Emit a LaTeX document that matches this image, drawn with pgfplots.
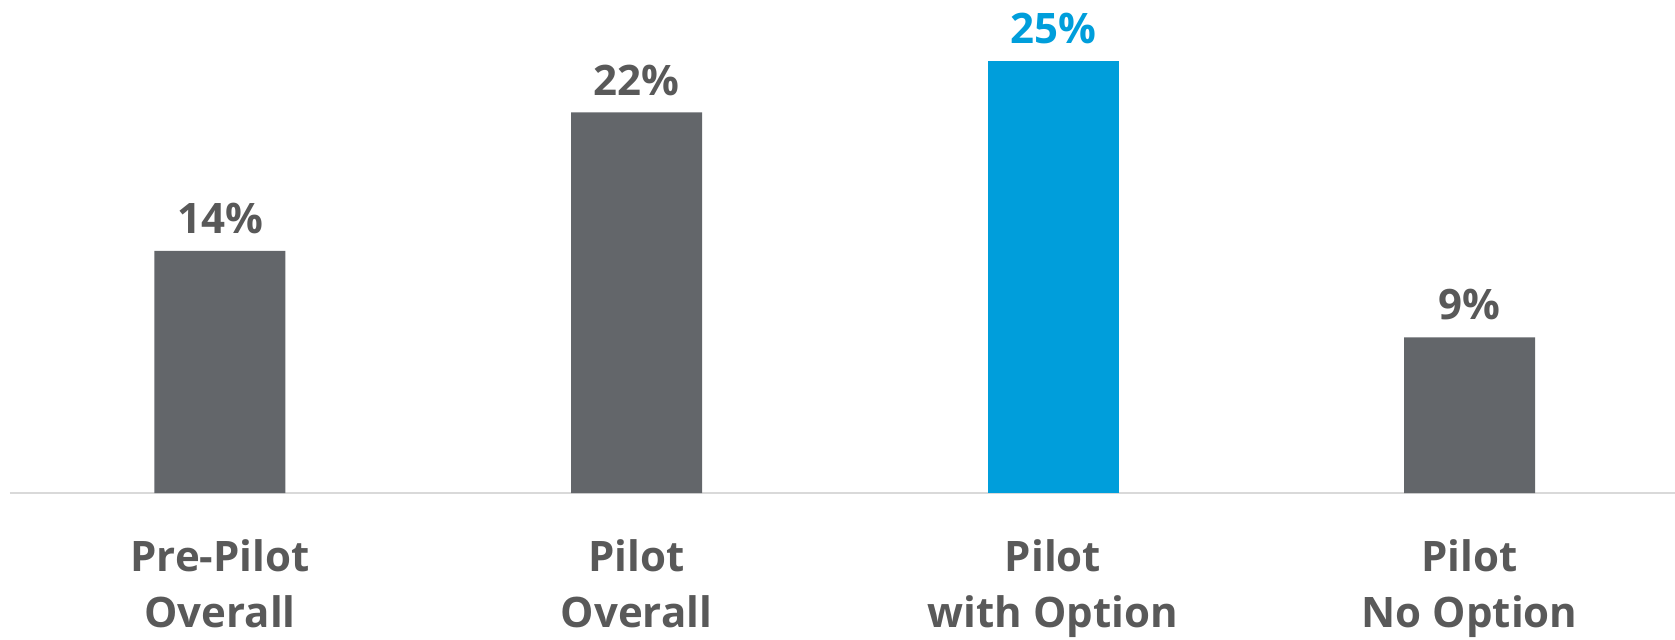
\documentclass[border=0pt]{standalone}
\usepackage{fontspec}
\setmainfont{Open Sans}
\usepackage{pgfplots}
\pgfplotsset{compat=1.18}
\definecolor{bargray}{HTML}{63666A}
\definecolor{txtgray}{HTML}{595959}
\definecolor{barblue}{HTML}{009EDB}
\definecolor{axgray}{HTML}{D9D9D9}
\begin{document}
\begin{tikzpicture}
\begin{axis}[
  at={(0,0)}, anchor=south west,
  scale only axis,
  width=832.5pt, height=246.5pt,
  xmin=-0.504, xmax=3.493,
  ymin=0, ymax=28.5,
  axis x line=bottom, axis y line=none,
  axis line style={draw=axgray, line width=1pt, -},
  ybar, bar width=65.5pt, bar shift=0pt,
  xtick={0,1,2,3},
  xticklabels={{Pre-Pilot\\Overall},{Pilot\\Overall},{Pilot\\with Option},{Pilot\\No Option}},
  major tick length=0pt,
  xticklabel style={align=center, font=\fontsize{21}{28}\selectfont\bfseries, text=txtgray, yshift=-20pt},
  /pgf/number format/assume math mode=true,
  nodes near coords={\pgfmathprintnumber{\pgfplotspointmeta}\%},
  nodes near coords style={font=\fontsize{21}{25}\selectfont\bfseries, yshift=5pt},
  clip=false,
]
\addplot[fill=bargray, draw=none, nodes near coords style={text=txtgray}] coordinates {(0,14) (1,22) (3,9)};
\addplot[fill=barblue, draw=none, nodes near coords style={text=barblue}] coordinates {(2,25)};
\end{axis}
\pgfresetboundingbox
\path[use as bounding box] (-5pt,-73pt) rectangle (832.5pt,246.5pt);
\end{tikzpicture}
\end{document}
